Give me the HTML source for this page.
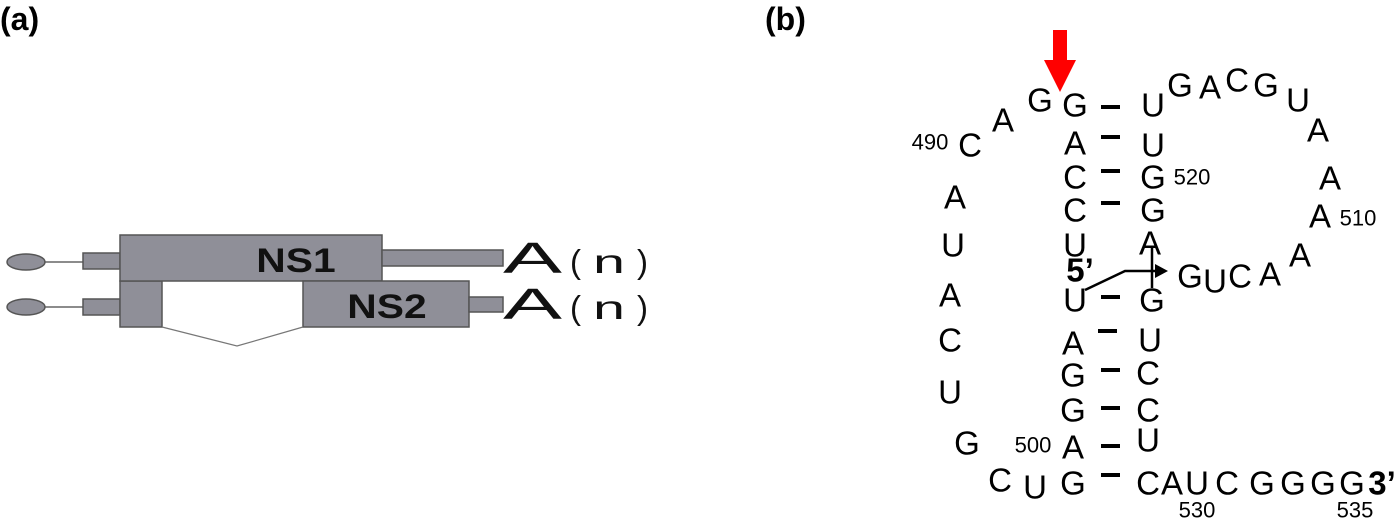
<!DOCTYPE html>
<html><head><meta charset="utf-8"><style>
html,body{margin:0;padding:0;background:#fff;}
svg{display:block;}
text{font-family:"Liberation Sans",sans-serif;}
</style></head><body>
<svg width="1399" height="525" viewBox="0 0 1399 525" xmlns="http://www.w3.org/2000/svg">
<text x="0" y="30" font-size="32" font-weight="bold">(a)</text>
<text x="765" y="30" font-size="32" font-weight="bold">(b)</text>
<!-- panel a -->
<g stroke="#555" stroke-width="1.5" fill="#8f8f98">
<line x1="44" y1="262" x2="83" y2="262" stroke="#666"/>
<line x1="44" y1="307" x2="83" y2="307" stroke="#666"/>
<ellipse cx="26" cy="262" rx="19" ry="8"/>
<ellipse cx="26" cy="307" rx="19" ry="8"/>
<rect x="83" y="253" width="37" height="16"/>
<rect x="83" y="299" width="37" height="16"/>
<rect x="120" y="281" width="42" height="46"/>
<rect x="120" y="235" width="262" height="46"/>
<rect x="382" y="250" width="121" height="16"/>
<rect x="303" y="281" width="166" height="46"/>
<rect x="469" y="297" width="34" height="15"/>
</g>
<polyline points="162,327 237,346 303,327" fill="none" stroke="#777" stroke-width="1.2"/>
<text x="296" y="272" font-size="34" font-weight="bold" text-anchor="middle" fill="#111" transform="translate(296 0) scale(1.2 1) translate(-296 0)">NS1</text>
<text x="387" y="318" font-size="34" font-weight="bold" text-anchor="middle" fill="#111" transform="translate(387 0) scale(1.2 1) translate(-387 0)">NS2</text>
<g fill="#111">
<text x="503" y="273" font-size="44" textLength="59" lengthAdjust="spacingAndGlyphs">A</text>
<text x="570" y="273" font-size="33">(</text><text x="593" y="273" font-size="33" textLength="32" lengthAdjust="spacingAndGlyphs">n</text><text x="637" y="273" font-size="33">)</text>
<text x="503" y="319" font-size="44" textLength="59" lengthAdjust="spacingAndGlyphs">A</text>
<text x="570" y="319" font-size="33">(</text><text x="593" y="319" font-size="33" textLength="32" lengthAdjust="spacingAndGlyphs">n</text><text x="637" y="319" font-size="33">)</text>
</g>
<!-- panel b -->
<polygon points="1053,30 1067,30 1067,60 1076,60 1060,92 1044,60 1053,60" fill="#f00"/>
<g font-size="33" text-anchor="middle" dominant-baseline="central" fill="#000">
<text x="1075" y="105">G</text><text x="1075" y="143">A</text><text x="1075" y="177">C</text><text x="1075" y="210">C</text><text x="1075" y="245">U</text>
<text x="1075" y="300">U</text><text x="1073" y="343">A</text><text x="1073" y="375">G</text><text x="1073" y="410">G</text><text x="1073" y="447">A</text><text x="1073" y="483">G</text>
<text x="1153" y="105">U</text><text x="1153" y="145">U</text><text x="1153" y="177">G</text><text x="1153" y="210">G</text><text x="1150" y="243">A</text>
<text x="1152" y="300">G</text><text x="1150" y="340">U</text><text x="1148" y="373">C</text><text x="1148" y="410">C</text><text x="1148" y="440">U</text>
<text x="1040" y="100">G</text><text x="1003" y="120">A</text><text x="970" y="145">C</text><text x="955" y="197">A</text><text x="953" y="245">U</text><text x="950" y="295">A</text><text x="950" y="340">C</text><text x="950" y="392">U</text><text x="967" y="443">G</text><text x="1000" y="480">C</text><text x="1035" y="487">U</text>
<text x="1180" y="85">G</text><text x="1210" y="87">A</text><text x="1237" y="80">C</text><text x="1266" y="85">G</text><text x="1298" y="100">U</text><text x="1318" y="130">A</text><text x="1330" y="178">A</text><text x="1320" y="216">A</text><text x="1300" y="255">A</text>
<text x="1190" y="276">G</text><text x="1215" y="281">U</text><text x="1240" y="276">C</text><text x="1270" y="274">A</text>
<text x="1148" y="483">C</text><text x="1172" y="483">A</text><text x="1197" y="483">U</text><text x="1227" y="483">C</text><text x="1262" y="483">G</text><text x="1293" y="483">G</text><text x="1323" y="483">G</text><text x="1352" y="483">G</text>
<text x="1382" y="483" font-weight="bold">3’</text>
<text x="1080" y="270" font-weight="bold">5’</text>
</g>
<g font-size="22" text-anchor="middle" dominant-baseline="central">
<text x="930" y="142">490</text><text x="1192" y="177">520</text><text x="1358" y="218">510</text><text x="1033" y="445">500</text><text x="1197" y="510">530</text><text x="1355" y="510">535</text>
</g>
<g stroke="#000" stroke-width="4">
<line x1="1101" y1="107" x2="1120" y2="107"/><line x1="1101" y1="137" x2="1120" y2="137"/><line x1="1101" y1="171" x2="1120" y2="171"/><line x1="1101" y1="203" x2="1120" y2="203"/>
<line x1="1101" y1="297" x2="1120" y2="297"/><line x1="1098" y1="331" x2="1117" y2="331"/><line x1="1101" y1="370" x2="1120" y2="370"/><line x1="1101" y1="408" x2="1120" y2="408"/><line x1="1101" y1="446" x2="1120" y2="446"/><line x1="1101" y1="475" x2="1120" y2="475"/>
</g>
<g stroke="#000" stroke-width="2.5" fill="none">
<polyline points="1085,290 1125,271 1158,271"/>
<line x1="1152" y1="248" x2="1152" y2="288"/>
</g>
<polygon points="1168,271 1155,264 1155,278" fill="#000"/>
</svg>
</body></html>
